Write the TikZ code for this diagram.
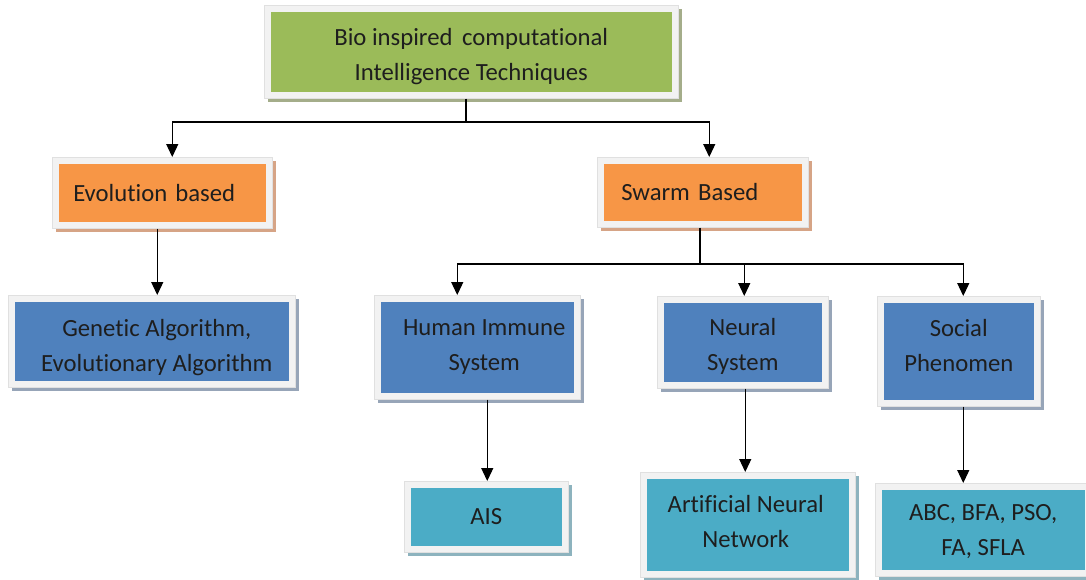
\documentclass[tikz,border=0pt]{standalone}
\usepackage{fontspec}
\setmainfont[Ligatures={NoCommon}]{Carlito}
\usetikzlibrary{arrows.meta,shadows}
\definecolor{cG}{HTML}{9BBB59}
\definecolor{cO}{HTML}{F79646}
\definecolor{cB}{HTML}{4F81BD}
\definecolor{cT}{HTML}{4BACC6}
\definecolor{shG}{HTML}{A4AD8A}
\definecolor{shO}{HTML}{D6A486}
\definecolor{shB}{HTML}{97A5B8}
\definecolor{shT}{HTML}{8DB3BE}
\definecolor{frameg}{HTML}{F2F2F2}
\definecolor{txtc}{HTML}{1E1E1E}
\tikzset{
  box/.style 2 args={rectangle, anchor=north west, inner sep=0pt,
    fill=frameg, draw=black!12, line width=0.5pt,
    general shadow={fill=#2, shadow xshift=4pt, shadow yshift=-4pt},
    path picture={\fill[#1] ([shift={(6.5pt,6.5pt)}]path picture bounding box.south west)
      rectangle ([shift={(-6.5pt,-6.5pt)}]path picture bounding box.north east);},
    font=\fontsize{24.7}{35}\selectfont, text=txtc, align=center},
  lbl/.style={font=\fontsize{24.7}{35}\selectfont, text=txtc, align=center, inner sep=0pt},
  conn/.style={line width=1.3pt, black},
  arr/.style={conn, -{Triangle[width=12pt,length=13pt]}}
}
\begin{document}
\begin{tikzpicture}[x=1pt,y=-1pt]
\fill[white] (0,0) rectangle (1086,579);
\useasboundingbox (0,0) rectangle (1086,579);

\node[box={cG}{shG}, minimum width=414pt, minimum height=93pt,
  label={[lbl, yshift=-5pt]center:{Bio inspired\hspace{4pt} computational\\Intelligence Techniques}}] (top) at (264,5) {};
\node[box={cO}{shO}, minimum width=220pt, minimum height=71pt, text width=178pt, align=left] (evo) at (52,157)
  {Evolution based};
\node[box={cO}{shO}, minimum width=211pt, minimum height=70pt, text width=163pt, align=left] (swarm) at (597,157)
  {Swarm Based};
\node[box={cB}{shB}, minimum width=287pt, minimum height=92pt,
  label={[lbl, xshift=5pt, yshift=-6pt]center:{Genetic Algorithm,\\Evolutionary Algorithm}}] (gen) at (8,295) {};
\node[box={cB}{shB}, minimum width=206pt, minimum height=104pt,
  label={[lbl, xshift=7pt]center:{Human Immune\\System}}] (hum) at (374,295) {};
\node[box={cB}{shB}, minimum width=171pt, minimum height=92pt,
  label={[lbl, yshift=-4pt]center:{Neural\\System}}] (neu) at (657,296) {};
\node[box={cB}{shB}, minimum width=163pt, minimum height=110pt,
  label={[lbl, yshift=6pt]center:{Social\\Phenomen}}] (soc) at (877,296) {};
\node[box={cT}{shT}, minimum width=164pt, minimum height=71pt,
  label={[lbl]center:AIS}] (ais) at (404,481) {};
\node[box={cT}{shT}, minimum width=215pt, minimum height=105pt,
  label={[lbl, xshift=-2pt, yshift=3pt]center:{Artificial Neural\\Network}}] (ann) at (640,472) {};
\node[box={cT}{shT}, minimum width=216pt, minimum height=93pt,
  label={[lbl, yshift=-2pt]center:{ABC, BFA, PSO,\\FA, SFLA}}] (abc) at (875,483) {};

\coordinate (j1) at (466,122);
\draw[conn] (top.south -| j1) -- (j1);
\draw[arr] (j1) -| ([xshift=10pt]evo.north);
\draw[arr] (j1) -| ([xshift=6.5pt]swarm.north);

\draw[arr] ([xshift=-5pt]evo.south) -- ([xshift=-5pt]evo.south |- gen.north);

\coordinate (j2) at (700,264);
\draw[conn] (swarm.south -| j2) -- (j2);
\draw[arr] (j2) -| ([xshift=-20pt]hum.north);
\draw[arr] (j2) -| ([xshift=1.5pt]neu.north);
\draw[arr] (j2) -| ([xshift=4.5pt]soc.north);

\draw[arr] ([xshift=10pt]hum.south) -- ([xshift=10pt]hum.south |- ais.north);
\draw[arr] ([xshift=2.5pt]neu.south) -- ([xshift=2.5pt]neu.south |- ann.north);
\draw[arr] ([xshift=4.5pt]soc.south) -- ([xshift=4.5pt]soc.south |- abc.north);
\end{tikzpicture}
\end{document}
